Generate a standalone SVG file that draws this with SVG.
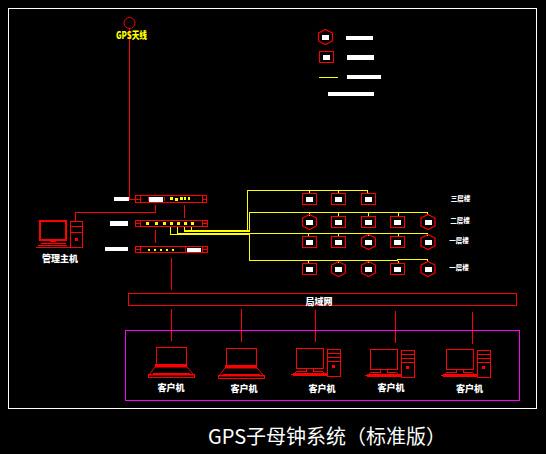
<svg xmlns="http://www.w3.org/2000/svg" width="546" height="454" viewBox="0 0 546 454">
<style>
text{font-family:"Noto Sans CJK SC","Liberation Sans",sans-serif;font-weight:900;fill:#fff;text-anchor:middle}
path,rect{shape-rendering:crispEdges}
.r{fill:none;stroke:#f00;stroke-width:1}
.rs{fill:none;stroke:#f00;stroke-width:1}
.rb{fill:none;stroke:#f00;stroke-width:2}
.y{fill:none;stroke:#ff0;stroke-width:1}
.w{fill:#fff}
.f{fill:#f00}
.yf{fill:#ff0}
</style>
<defs>
<g id="sq"><rect x="-7" y="-5.500" width="14" height="11" class="rs"/><rect x="-3.500" y="-2" width="7" height="5" class="w"/></g>
<g id="hx"><path d="M0-7.500L7-4V4L0 7.500L-7 4V-4Z" class="rs" style="shape-rendering:auto;stroke-width:1.200"/><rect x="-3.500" y="-2.500" width="7" height="5" class="w"/></g>
<g id="lap"><rect x="-15" y="-14" width="30" height="18" class="rs"/><path d="M-16 3H16V6H-16Z" class="f"/><path d="M-16 6H16L23 14H-22Z" class="rs" style="shape-rendering:auto"/><path d="M-23 13H23V16H-23Z" class="rs"/><path d="M-18 12H19V14H-18Z" class="f"/></g>
<g id="pc"><rect x="-23" y="-13" width="27" height="20" class="rs"/><path d="M-13 7H-6V10H2L7 13H-26L-21 10H-13Z" class="rs"/><path d="M-26 12H8V15H-26Z" class="f"/><rect x="8" y="-12" width="13" height="27" class="rs"/><path d="M8-8H21M8-4H21M8 0H21" class="r"/><rect x="13" y="4" width="3" height="3" class="f"/></g>
</defs>
<rect width="546" height="454" fill="#000"/>
<rect id="frame" x="8.500" y="8.500" width="528" height="400" fill="none" stroke="#fff"/>

<g id="connectors">
<path d="M129.500 28V199.500H135" class="r"/>
<path d="M75.500 221V212.500H155.500V205M184.500 205V218M155.500 230V243M171.500 258V290M171.500 309V341M241.500 309V342M315.500 310V342M395.500 311V343M472.500 312V344" class="r"/>
<path d="M247.500 231V190.500H367.500V194M249.500 231V212.500H427.500V215M170.500 227V234.500H249.500V233.500H427.500V236M249.500 234V260.500H397.500V259.500H427.500V262M177.500 227V233M184.500 227V231M191.500 227V230" class="y"/>
<path d="M184 230H250V232H184ZM177 233H250V235H177Z" class="yf"/>
<path d="M309.500 191V194M338.500 191V194M309.500 213V216M338.500 213V216M368.500 213V216M398.500 213V216M308.500 234V236M338.500 234V236M368.500 234V236M398.500 234V236M308.500 261V263M338.500 261V263M368.500 261V263M398.500 261V263" class="y"/>
</g>

<g id="gps-antenna">
<circle cx="129.500" cy="23" r="5.500" fill="none" stroke="#f00"/>
<text x="131.500" y="38.500" font-size="10" textLength="31" lengthAdjust="spacingAndGlyphs" style="fill:#ff0">GPS天线</text>
</g>

<g id="legend">
<use href="#hx" x="325.500" y="37"/>
<use href="#sq" x="326.500" y="57"/>
<path d="M319 77.500H338" class="y"/>
<rect x="346" y="36" width="27" height="4" class="w"/>
<rect x="347" y="55" width="27" height="5" class="w"/>
<rect x="347" y="75" width="34" height="4" class="w"/>
<rect x="328" y="92" width="46" height="4" class="w"/>
</g>

<g id="server1">
<rect x="114" y="197" width="15" height="4" class="w"/>
<rect x="135.500" y="195.500" width="71" height="7" class="rs"/>
<path d="M140.500 196V202M202.500 196V202M136 199.500H140M203 199.500H206M148.500 197V201M164.500 197V201" class="r"/>
<rect x="149" y="197" width="14" height="5" class="w"/>
<path d="M170 197h3v3h-3zM175 198h3v3h-3zM180 197h3v3h-3zM184 197h2v3h-2zM188 197h2v3h-2z" class="yf"/>
</g>
<g id="server2">
<rect x="110" y="221" width="18" height="5" class="w"/>
<rect x="135.500" y="220.500" width="72" height="6" class="rs"/>
<path d="M140.500 221V226M202.500 221V226M136 223.500H140M203 223.500H207" class="r"/>
<path d="M146 222h3v3h-3zM155 222h3v3h-3zM163 222h3v3h-3zM170 222h3v3h-3zM177 222h3v3h-3zM184 222h3v3h-3zM191 222h3v3h-3z" class="yf"/>
</g>
<g id="server3">
<rect x="105" y="247" width="23" height="4" class="w"/>
<rect x="135.500" y="246.500" width="72" height="6" class="rs"/>
<path d="M140.500 247V252M185.500 247V252M202.500 247V252M136 249.500H140M203 249.500H207" class="r"/>
<path d="M148 249h2v2h-2zM154 249h2v2h-2zM160 249h2v2h-2zM166 249h2v2h-2zM172 249h2v2h-2z" class="yf"/>
<rect x="187" y="248" width="14" height="4" class="w"/>
</g>

<g id="host">
<rect x="40" y="221" width="26" height="19" class="rb"/>
<path d="M41 243.500H66M38 245.500H67M36 247.500H70M50 241.500H56" stroke="#f00" fill="none"/>
<rect x="70.500" y="221.500" width="12" height="26" class="rs"/>
<path d="M71 226H82M71 232H82" class="r"/>
<rect x="75" y="238" width="3" height="3" class="f"/>
<text x="60" y="262" font-size="9">管理主机</text>
</g>

<g id="row1">
<use href="#sq" x="309.500" y="199"/><use href="#sq" x="338.500" y="199"/><use href="#sq" x="368.500" y="198.500"/>
<text x="460.500" y="201" font-size="6.500">三层楼</text>
</g>
<g id="row2">
<use href="#hx" x="309.500" y="222"/><use href="#sq" x="338.500" y="222"/><use href="#sq" x="368.500" y="222"/><use href="#sq" x="397.500" y="222"/><use href="#hx" x="428" y="222"/>
<text x="460" y="223" font-size="6.500">二层楼</text>
</g>
<g id="row3">
<use href="#sq" x="309.500" y="242"/><use href="#sq" x="338.500" y="242"/><use href="#hx" x="368.500" y="242"/><use href="#sq" x="397.500" y="242"/><use href="#hx" x="428" y="242"/>
<text x="459" y="243" font-size="6.500">一层楼</text>
</g>
<g id="row4">
<use href="#sq" x="309.500" y="269"/><use href="#hx" x="338.500" y="269"/><use href="#hx" x="368.500" y="269"/><use href="#sq" x="397.500" y="269"/><use href="#hx" x="428" y="269"/>
<text x="459" y="270" font-size="6.500">一层楼</text>
</g>

<g id="lan">
<rect x="128.500" y="293.500" width="388" height="12" class="rs"/>
<text x="319" y="304.500" font-size="9">局域网</text>
</g>
<g id="clients">
<rect x="125.500" y="330.500" width="394" height="70" fill="none" stroke="#f0f"/>
<g id="client1"><use href="#lap" x="171" y="361"/><text x="171" y="391" font-size="9">客户机</text></g>
<g id="client2"><use href="#lap" x="241" y="362"/><text x="244" y="392" font-size="9">客户机</text></g>
<g id="client3"><use href="#pc" x="319" y="361"/><text x="322" y="392" font-size="9">客户机</text></g>
<g id="client4"><use href="#pc" x="393" y="362"/><text x="391" y="391" font-size="9">客户机</text></g>
<g id="client5"><use href="#pc" x="469" y="362"/><text x="469.500" y="392" font-size="9">客户机</text></g>
</g>
<text id="title" x="208" y="444" font-size="20" textLength="238" lengthAdjust="spacingAndGlyphs" style="font-weight:400;text-anchor:start">GPS子母钟系统（标准版）</text>
</svg>
